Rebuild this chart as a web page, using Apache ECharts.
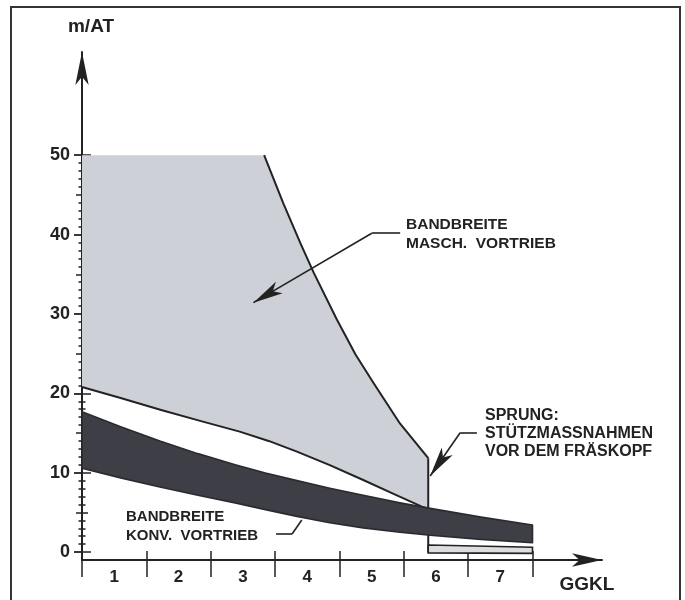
<!DOCTYPE html>
<html>
<head>
<meta charset="utf-8">
<script src="https://cdn.jsdelivr.net/npm/echarts@6/dist/echarts.min.js"></script>
<style>html,body{margin:0;padding:0;background:#fff}#c{width:685px;height:600px}</style>
</head>
<body>
<div id="c"></div>
<script>
// ---- axis ticks / labels ----
const xTickValues = [0, 1, 2, 3, 4, 5, 6, 7];
const xLabelPositions = [0.5, 1.5, 2.5, 3.5, 4.5, 5.5, 6.5];
const xLabels = ['1', '2', '3', '4', '5', '6', '7'];
const yLabelValues = [0, 10, 20, 30, 40, 50];
const yMidTicks = [5, 15, 25, 35, 45];
const yMinorTicks = [1,2,3,4,6,7,8,9,11,12,13,14,16,17,18,19,21,22,23,24,26,27,28,29,31,32,33,34,36,37,38,39,41,42,43,44,46,47,48,49];

// ---- Bandbreite maschineller Vortrieb (GGKL, m/AT) ----
const maschUpper = [[0, 50], [2.83, 50], [3.13, 43.9], [3.4, 38.8], [3.6, 35.2], [3.96, 29.3], [4.25, 24.9], [4.53, 21.3], [4.94, 16.2], [5.38, 11.82]];
const maschLower = [[0, 20.8], [0.6, 19.4], [1.23, 17.9], [1.85, 16.5], [2.45, 15.17], [2.9, 14.0], [3.34, 12.65], [3.85, 10.95], [4.37, 9.08], [4.85, 7.3], [5.28, 5.72], [5.38, 5.43]];
// after the jump (Stützmassnahmen vor dem Fräskopf)
const sprungUpper = [[5.38, 0.89], [7, 0.6]];
const sprungLower = [[5.38, -0.1], [7, -0.16]];

// ---- Bandbreite konventioneller Vortrieb ----
const konvUpper = [[0, 17.69], [0.6, 15.8], [1.21, 14.0], [1.8, 12.4], [2.38, 11.0], [2.85, 9.95], [3.34, 9.0], [3.85, 8.05], [4.37, 7.15], [4.94, 6.2], [5.41, 5.5], [6.2, 4.4], [7, 3.41]];
const konvLower = [[0, 10.56], [0.6, 9.35], [1.21, 8.2], [1.8, 7.15], [2.38, 6.2], [2.85, 5.35], [3.34, 4.5], [3.85, 3.7], [4.37, 3.05], [4.94, 2.5], [5.41, 2.12], [6.2, 1.6], [7, 1.18]];

// ---- annotation leader lines (data space) ----
const leaderMasch = [[4.944, 40.17], [4.503, 40.17], [2.663, 31.42]];
const leaderSprung = [[6.136, 15.04], [5.876, 15.04], [5.41, 9.59]];
const leaderKonv = [[3.016, 2.28], [3.264, 2.28], [3.415, 4.04]];

const FONT = '"Liberation Sans", Arial, Helvetica, sans-serif';
const INK = '#222';
const LIGHT = '#cdd0d7';
const DARK = '#3e3e47';

const chart = echarts.init(document.getElementById('c'), null, {renderer: 'canvas'});

function pts(api, arr) { return arr.map(p => api.coord(p)); }

function renderBands(params, api) {
  const upper = pts(api, maschUpper);
  const lower = pts(api, maschLower);
  const sU = pts(api, sprungUpper);
  const sL = pts(api, sprungLower);
  const kU = pts(api, konvUpper);
  const kL = pts(api, konvLower);
  const jumpX = maschUpper[maschUpper.length - 1][0];
  const vert = pts(api, [maschUpper[maschUpper.length - 1], [jumpX, sprungLower[0][1]]]);
  return {
    type: 'group',
    children: [
      {type: 'polygon', shape: {points: upper.concat(lower.slice().reverse())}, style: {fill: LIGHT, stroke: null}},
      {type: 'polyline', shape: {points: upper.slice(1)}, style: {fill: null, stroke: INK, lineWidth: 2, lineJoin: 'round'}},
      {type: 'polyline', shape: {points: lower}, style: {fill: null, stroke: INK, lineWidth: 2, lineJoin: 'round'}},
      {type: 'polyline', shape: {points: vert}, style: {fill: null, stroke: INK, lineWidth: 2}},
      {type: 'polygon', shape: {points: sU.concat(sL.slice().reverse())}, style: {fill: '#dcdde1', stroke: INK, lineWidth: 1.6}},
      {type: 'polygon', shape: {points: kU.concat(kL.slice().reverse())}, style: {fill: DARK, stroke: '#2a2a30', lineWidth: 1.6, lineJoin: 'round'}}
    ]
  };
}

function leader(arr) {
  return [
    [{coord: arr[0], symbol: 'none'}, {coord: arr[1], symbol: 'none'}],
    [{coord: arr[1], symbol: 'none'}, {coord: arr[2], symbol: 'none'}]
  ];
}
function leaderArrow(arr) {
  return [
    [{coord: arr[0], symbol: 'none'}, {coord: arr[1], symbol: 'none'}],
    [{coord: arr[1], symbol: 'none'}, {coord: arr[2], symbol: 'arrow', symbolSize: [10, 30]}]
  ];
}

const Y_MIN = -1, Y_MAX = 63, X_MAX = 8.08;

const baseY = {
  type: 'value', min: Y_MIN, max: Y_MAX, position: 'left',
  axisLine: {show: false, onZero: false},
  splitLine: {show: false},
  axisLabel: {show: false},
  axisTick: {show: false}
};
function tickY(values, len, inside) {
  return Object.assign({}, baseY, {
    axisTick: {show: true, customValues: values, length: len, inside: inside, lineStyle: {color: INK, width: 1.5}}
  });
}

const option = {
  animation: false,
  backgroundColor: '#fff',
  grid: {left: 82, right: 83, top: 52, bottom: 40},
  xAxis: [
    {
      type: 'value', min: 0, max: X_MAX, position: 'bottom',
      name: 'GGKL', nameLocation: 'end', nameGap: 0,
      nameTextStyle: {fontFamily: FONT, fontWeight: 'bold', fontSize: 19, color: INK, align: 'center', verticalAlign: 'top', padding: [15, 30, 0, 0]},
      axisLine: {show: true, onZero: false, symbol: ['none', 'arrow'], symbolSize: [10, 30], lineStyle: {color: INK, width: 2}},
      axisTick: {show: true, customValues: xTickValues, length: 17, inside: false, lineStyle: {color: INK, width: 1.5}},
      axisLabel: {show: true, customValues: xLabelPositions, formatter: v => xLabels[Math.floor(v)], margin: 9,
        fontFamily: FONT, fontWeight: 'bold', fontSize: 17, color: INK},
      splitLine: {show: false}
    },
    {
      type: 'value', min: 0, max: X_MAX, position: 'bottom',
      axisLine: {show: false, onZero: false},
      axisTick: {show: true, customValues: xTickValues.slice(1), length: 9, inside: true, lineStyle: {color: INK, width: 1.5}},
      axisLabel: {show: false},
      splitLine: {show: false}
    }
  ],
  yAxis: [
    {
      type: 'value', min: Y_MIN, max: Y_MAX, position: 'left',
      name: 'm/AT', nameLocation: 'end', nameGap: 16,
      nameTextStyle: {fontFamily: FONT, fontWeight: 'bold', fontSize: 19, color: INK, align: 'center', padding: [0, 0, 0, 18]},
      axisLine: {show: true, onZero: false, symbol: ['none', 'arrow'], symbolSize: [10, 33], lineStyle: {color: INK, width: 2}},
      axisTick: {show: true, customValues: yLabelValues, length: 8, inside: false, lineStyle: {color: INK, width: 1.8}},
      axisLabel: {show: true, customValues: yLabelValues, margin: 12, fontFamily: FONT, fontWeight: 'bold', fontSize: 18, color: INK},
      splitLine: {show: false}
    },
    tickY(yLabelValues, 9, true),
    tickY(yMidTicks, 6, false),
    tickY(yMidTicks, 6, true),
    tickY(yMinorTicks, 3.5, false),
    tickY(yMinorTicks, 3.5, true)
  ],
  series: [
    {
      type: 'custom', coordinateSystem: 'cartesian2d', xAxisIndex: 0, yAxisIndex: 0,
      data: [[0, 0]], renderItem: renderBands, silent: true, z: 1, clip: false
    },
    {
      type: 'line', xAxisIndex: 0, yAxisIndex: 0, data: [], symbol: 'none', z: 5,
      markLine: {
        silent: true, animation: false,
        label: {show: false},
        lineStyle: {color: INK, width: 1.6, type: 'solid'},
        symbol: ['none', 'none'],
        data: leaderArrow(leaderMasch).concat(leaderArrow(leaderSprung), leader(leaderKonv))
      }
    }
  ],
  graphic: [
    {type: 'rect', shape: {x: 11, y: 7, width: 669, height: 620}, style: {fill: 'none', stroke: '#333', lineWidth: 2}, silent: true},
    {type: 'text', x: 406, y: 215, silent: true,
      style: {text: 'BANDBREITE\nMASCH.  VORTRIEB', font: 'bold 15.5px ' + FONT, fill: INK, lineHeight: 19, verticalAlign: 'top'}},
    {type: 'text', x: 485, y: 406, silent: true,
      style: {text: 'SPRUNG:\nSTÜTZMASSNAHMEN\nVOR DEM FRÄSKOPF', font: 'bold 16px ' + FONT, fill: INK, lineHeight: 18.3, verticalAlign: 'top'}},
    {type: 'text', x: 126, y: 508, silent: true,
      style: {text: 'BANDBREITE\nKONV.  VORTRIEB', font: 'bold 15px ' + FONT, fill: INK, lineHeight: 18.7, verticalAlign: 'top'}}
  ]
};
chart.setOption(option);
</script>
</body>
</html>
